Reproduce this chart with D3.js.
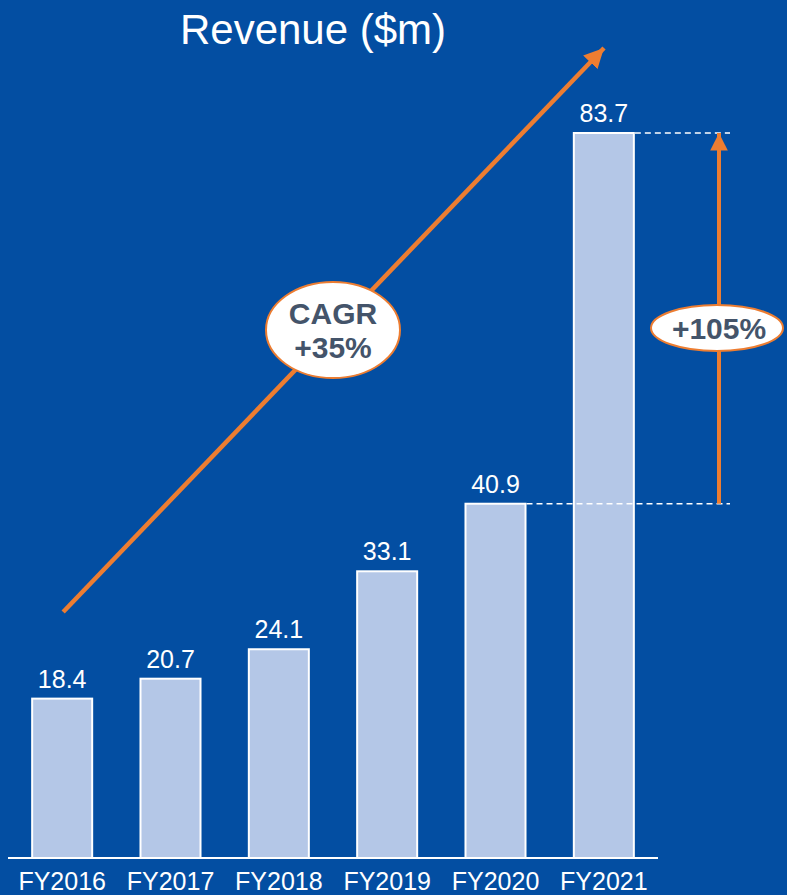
<!DOCTYPE html>
<html><head><meta charset="utf-8">
<script src="https://cdn.jsdelivr.net/npm/d3@7"></script>
<style>html,body{margin:0;padding:0;background:#034ea2;}svg{display:block;}</style>
</head><body>
<script>
const categories = ["FY2016","FY2017","FY2018","FY2019","FY2020","FY2021"];
const revenue = [18.4, 20.7, 24.1, 33.1, 40.9, 83.7];
const valueLabels = ["18.4","20.7","24.1","33.1","40.9","83.7"];
const title = "Revenue ($m)";
const cagrLabel = ["CAGR", "+35%"];
const growthLabel = "+105%";

const W = 787, H = 895;
const svg = d3.select("body").append("svg").attr("width", W).attr("height", H);
svg.append("rect").attr("width", W).attr("height", H).attr("fill", "#034ea2");

const x = d3.scaleBand().domain(categories).range([8, 658]).paddingInner(0.446).paddingOuter(0.223);
const y = d3.scaleLinear().domain([0, 83.7]).range([858, 133]);
const font = "Arial, 'Liberation Sans', sans-serif";
const orange = "#ed7d31";

svg.append("text").attr("x", 313).attr("y", 44).attr("text-anchor", "middle")
  .attr("fill", "#fff").attr("font-family", font).attr("font-size", 42).text(title);

// bars
svg.selectAll("rect.bar").data(revenue).join("rect").attr("class", "bar")
  .attr("x", (d, i) => x(categories[i]))
  .attr("y", d => y(d))
  .attr("width", x.bandwidth())
  .attr("height", d => y(0) - y(d))
  .attr("fill", "#b4c7e7").attr("stroke", "#fff").attr("stroke-width", 2);

svg.selectAll("text.val").data(revenue).join("text").attr("class", "val")
  .attr("x", (d, i) => x(categories[i]) + x.bandwidth() / 2)
  .attr("y", d => y(d) - 11)
  .attr("text-anchor", "middle").attr("fill", "#fff")
  .attr("font-family", font).attr("font-size", 25)
  .text((d, i) => valueLabels[i]);

// axis
const axis = svg.append("g").attr("transform", `translate(0,${y(0)})`)
  .call(d3.axisBottom(x).tickSize(0).tickPadding(14));
axis.select(".domain").attr("stroke", "#fff").attr("stroke-width", 2).attr("d", "M8,0H658");
axis.selectAll("text").attr("fill", "#fff").attr("font-family", font).attr("font-size", 25)
  .attr("dy", "0.71em");

// dashed reference lines
const xr = 730;
[revenue[5], revenue[4]].forEach((v, k) => {
  const cat = categories[5 - k];
  svg.append("line").attr("x1", x(cat) + x.bandwidth() + 1).attr("x2", xr)
    .attr("y1", y(v)).attr("y2", y(v))
    .attr("stroke", "#fff").attr("stroke-width", 1.5).attr("stroke-dasharray", "6,4");
});

const defs = svg.append("defs");
defs.append("marker").attr("id", "ah").attr("viewBox", "0 0 10 10").attr("refX", 10).attr("refY", 5)
  .attr("markerWidth", 4.4).attr("markerHeight", 4.4).attr("markerUnits", "strokeWidth").attr("orient", "auto")
  .append("path").attr("d", "M0,0L10,5L0,10z").attr("fill", orange);

// vertical growth arrow
const ax = 719;
svg.append("line").attr("x1", ax).attr("x2", ax).attr("y1", y(revenue[4])).attr("y2", y(revenue[5]))
  .attr("stroke", orange).attr("stroke-width", 4).attr("marker-end", "url(#ah)");

// diagonal CAGR arrow
svg.append("line").attr("x1", x(categories[0]) + x.bandwidth() / 2 + 1).attr("y1", 612)
  .attr("x2", 604).attr("y2", 48)
  .attr("stroke", orange).attr("stroke-width", 4.5).attr("marker-end", "url(#ah)");

// CAGR ellipse
svg.append("ellipse").attr("cx", 333).attr("cy", 330).attr("rx", 67).attr("ry", 48)
  .attr("fill", "#fff").attr("stroke", orange).attr("stroke-width", 2);
svg.append("text").attr("x", 333).attr("y", 324).attr("text-anchor", "middle")
  .attr("fill", "#44546a").attr("font-family", font).attr("font-weight", "bold").attr("font-size", 30)
  .text(cagrLabel[0]);
svg.append("text").attr("x", 333).attr("y", 358).attr("text-anchor", "middle")
  .attr("fill", "#44546a").attr("font-family", font).attr("font-weight", "bold").attr("font-size", 30)
  .text(cagrLabel[1]);

// +105% ellipse
svg.append("ellipse").attr("cx", 717).attr("cy", 328).attr("rx", 66).attr("ry", 23)
  .attr("fill", "#fff").attr("stroke", orange).attr("stroke-width", 2);
svg.append("text").attr("x", 719).attr("y", 339).attr("text-anchor", "middle")
  .attr("fill", "#44546a").attr("font-family", font).attr("font-weight", "bold").attr("font-size", 30)
  .text(growthLabel);
</script>
</body></html>
